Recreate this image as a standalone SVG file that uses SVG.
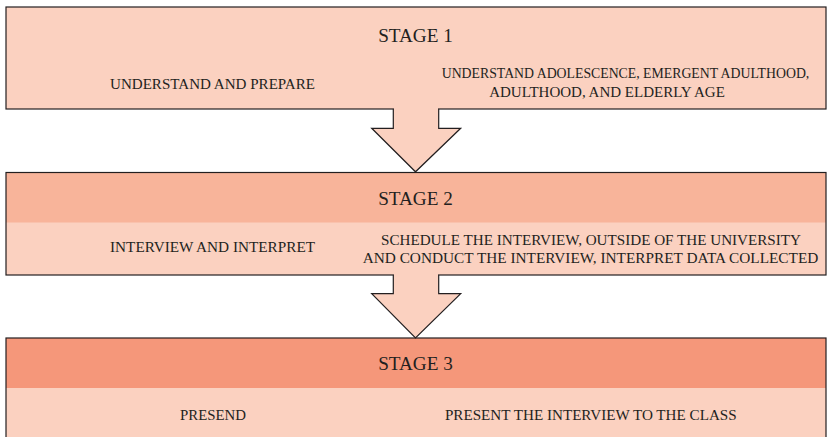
<svg xmlns="http://www.w3.org/2000/svg" width="828" height="437" viewBox="0 0 828 437">
<style>
.light{fill:#FBD1C0}
.h2{fill:#F8B49A}
.h3{fill:#F5977A}
.edge{fill:none;stroke:#231F20;stroke-width:1.2}
.arrow{fill:#FBD1C0;stroke:#231F20;stroke-width:1.2;stroke-linejoin:miter}
text{font-family:"Liberation Serif","Times New Roman",serif;fill:#231F20;text-anchor:middle}
.st{font-size:19.5px}
.tx{font-size:15px}
.sm{font-size:14px}
</style>
<rect width="828" height="437" fill="#ffffff"/>
<g id="stage1">
<rect x="6" y="7" width="820" height="102" class="light"/>
<rect x="6" y="7" width="820" height="102" class="edge"/>
<text class="st" x="415.5" y="42" textLength="74.7" lengthAdjust="spacingAndGlyphs">STAGE 1</text>
<text class="tx" x="212.5" y="89.3" textLength="205" lengthAdjust="spacingAndGlyphs">UNDERSTAND AND PREPARE</text>
<text class="sm" x="625.5" y="77.7" textLength="367.6" lengthAdjust="spacingAndGlyphs">UNDERSTAND ADOLESCENCE, EMERGENT ADULTHOOD,</text>
<text class="tx" x="607" y="96.7" textLength="235.7" lengthAdjust="spacingAndGlyphs">ADULTHOOD, AND ELDERLY AGE</text>
</g>
<g id="stage2">
<rect x="6" y="172.5" width="820" height="102.5" class="light"/>
<rect x="6" y="172.5" width="820" height="50" class="h2"/>
<rect x="6" y="172.5" width="820" height="102.5" class="edge"/>
<text class="st" x="415.5" y="205" textLength="74.7" lengthAdjust="spacingAndGlyphs">STAGE 2</text>
<text class="tx" x="212.5" y="252" textLength="205" lengthAdjust="spacingAndGlyphs">INTERVIEW AND INTERPRET</text>
<text class="tx" x="591" y="245" textLength="420" lengthAdjust="spacingAndGlyphs">SCHEDULE THE INTERVIEW, OUTSIDE OF THE UNIVERSITY</text>
<text class="tx" x="590.5" y="263.3" textLength="455.6" lengthAdjust="spacingAndGlyphs">AND CONDUCT THE INTERVIEW, INTERPRET DATA COLLECTED</text>
</g>
<g id="stage3">
<rect x="6" y="338" width="820" height="110" class="light"/>
<rect x="6" y="338" width="820" height="50" class="h3"/>
<rect x="6" y="338" width="820" height="110" class="edge"/>
<text class="st" x="415.5" y="370" textLength="74.7" lengthAdjust="spacingAndGlyphs">STAGE 3</text>
<text class="tx" x="213" y="420" textLength="66" lengthAdjust="spacingAndGlyphs">PRESEND</text>
<text class="tx" x="590.8" y="420" textLength="291.7" lengthAdjust="spacingAndGlyphs">PRESENT THE INTERVIEW TO THE CLASS</text>
</g>
<g id="connectors">
<path class="arrow" d="M393.3,109 L393.3,128.3 L371.7,128.3 L415.5,171.8 L460.7,128.3 L438.7,128.3 L438.7,109"/>
<rect x="394" y="107" width="44" height="4" class="light"/>
<path class="arrow" d="M393.3,275 L393.3,293.7 L371.7,293.7 L415.5,338 L460.7,293.7 L438.7,293.7 L438.7,275"/>
<rect x="394" y="273" width="44" height="4" class="light"/>
</g>
</svg>
